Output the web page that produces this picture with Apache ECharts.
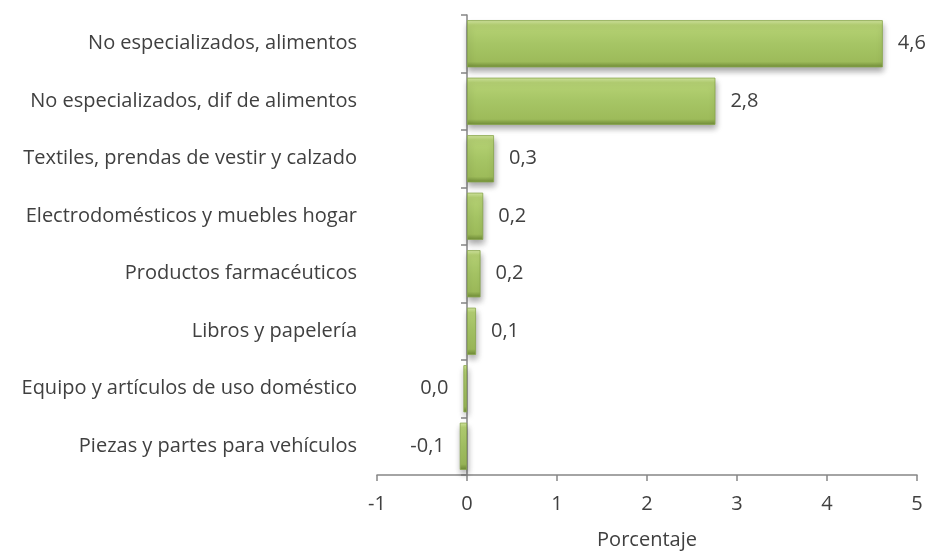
<!DOCTYPE html>
<html>
<head>
<meta charset="utf-8">
<script src="https://cdn.jsdelivr.net/npm/echarts@6/dist/echarts.min.js"></script>
<style>
  html, body { margin: 0; padding: 0; background: #fff; }
  #chart { width: 932px; height: 555px; }
</style>
</head>
<body>
<div id="chart"></div>
<script>
// rubros, de arriba hacia abajo
const categories = [
  'No especializados, alimentos',
  'No especializados, dif de alimentos',
  'Textiles, prendas de vestir y calzado',
  'Electrodomésticos y muebles hogar',
  'Productos farmacéuticos',
  'Libros y papelería',
  'Equipo y artículos de uso doméstico',
  'Piezas y partes para vehículos'
];
const values = [4.62, 2.76, 0.3, 0.18, 0.15, 0.1, -0.04, -0.08];
const xTicks = [-1, 0, 1, 2, 3, 4, 5];

const FONT = 'Open Sans';
const FS = 20;
const TEXT = '#404040';
const AXIS = '#868686';

function fmt(v) {
  let r = Math.round(v * 10) / 10;
  if (r === 0) r = 0;
  return r.toFixed(1).replace('.', ',');
}

const chart = echarts.init(document.getElementById('chart'));

chart.setOption({
  animation: false,
  textStyle: { fontFamily: FONT },
  grid: { left: 377, right: 15, top: 15, bottom: 80, containLabel: false },
  xAxis: {
    type: 'value',
    min: xTicks[0],
    max: xTicks[xTicks.length - 1],
    interval: 1,
    name: 'Porcentaje',
    nameLocation: 'middle',
    nameGap: 55,
    nameTextStyle: { color: TEXT, fontSize: FS, fontFamily: FONT },
    axisLine: { show: true, onZero: false, lineStyle: { color: AXIS, width: 1.5 } },
    axisTick: { show: true, length: 6, lineStyle: { color: AXIS, width: 1.5 } },
    axisLabel: { color: TEXT, fontSize: FS, margin: 19, formatter: (v) => String(v) },
    splitLine: { show: false }
  },
  yAxis: [
    {
      type: 'category',
      data: categories,
      inverse: true,
      axisLine: { show: false, onZero: false },
      axisTick: { show: false },
      axisLabel: { color: TEXT, fontSize: FS, margin: 20 }
    },
    {
      type: 'category',
      data: categories,
      inverse: true,
      position: 'left',
      axisLine: { show: true, onZero: true, lineStyle: { color: AXIS, width: 1.5 } },
      axisTick: { show: true, length: 6, lineStyle: { color: AXIS, width: 1.5 } },
      axisLabel: { show: false }
    }
  ],
  series: [
    {
      type: 'bar',
      yAxisIndex: 0,
      data: values.map((v) => ({
        value: v,
        label: { position: v < 0 ? 'left' : 'right' }
      })),
      barCategoryGap: '18%',
      itemStyle: {
        color: new echarts.graphic.LinearGradient(0, 0, 0, 1, [
          { offset: 0, color: '#d2e6a0' },
          { offset: 0.1, color: '#b6d274' },
          { offset: 0.5, color: '#a6c565' },
          { offset: 0.88, color: '#9dbb5a' },
          { offset: 1, color: '#6f8b36' }
        ]),
        borderColor: '#88a64a',
        borderWidth: 0.8,
        shadowBlur: 6,
        shadowOffsetX: 1,
        shadowOffsetY: 4,
        shadowColor: 'rgba(0,0,0,0.35)'
      },
      label: {
        show: true,
        distance: 15,
        color: TEXT,
        fontSize: FS,
        fontFamily: FONT,
        formatter: (p) => fmt(p.value)
      }
    }
  ]
});
</script>
</body>
</html>
